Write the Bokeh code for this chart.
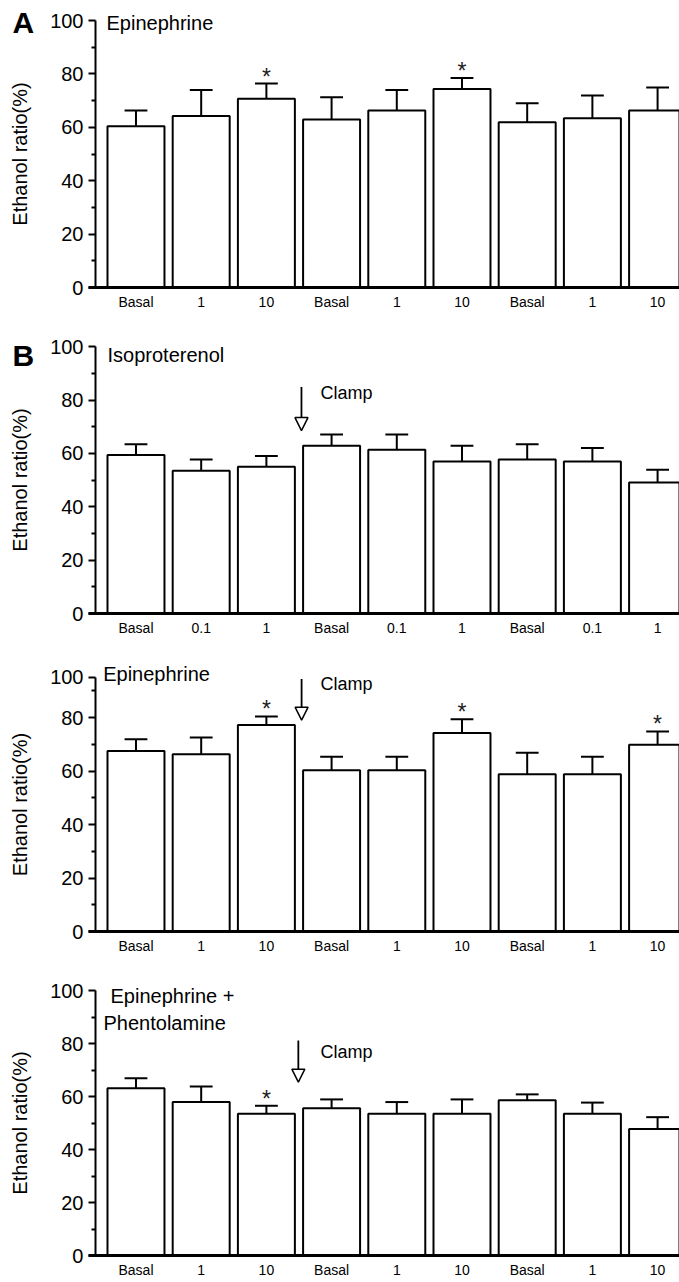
from bokeh.plotting import figure
from bokeh.models import (Range1d, FixedTicker, Label, Arrow, NormalHead, ColumnDataSource)
from bokeh.layouts import column
from bokeh.core.properties import value
from bokeh.embed import file_html
from bokeh.resources import INLINE

# ---------------- data ----------------
epi_labels = ["Basal", "1", "10", "Basal", "1", "10", "Basal", "1", "10"]
iso_labels = ["Basal", "0.1", "1", "Basal", "0.1", "1", "Basal", "0.1", "1"]

a_mean = [60.4, 64.2, 70.7, 62.9, 66.3, 74.3, 61.9, 63.4, 66.3]
a_sem = [5.9, 9.8, 5.7, 8.4, 7.7, 4.2, 7.1, 8.5, 8.6]
a_sig = [0, 0, 1, 0, 0, 1, 0, 0, 0]

iso_mean = [59.4, 53.5, 55.0, 62.9, 61.4, 57.0, 57.7, 57.0, 49.1]
iso_sem = [4.1, 4.2, 4.1, 4.2, 5.7, 5.9, 5.8, 5.1, 4.8]
iso_sig = [0, 0, 0, 0, 0, 0, 0, 0, 0]

epi_mean = [67.5, 66.3, 77.2, 60.3, 60.3, 74.2, 58.8, 58.8, 69.8]
epi_sem = [4.4, 6.2, 3.2, 5.0, 5.0, 5.1, 8.0, 6.5, 5.0]
epi_sig = [0, 0, 1, 0, 0, 1, 0, 0, 1]

phe_mean = [63.1, 57.9, 53.5, 55.6, 53.5, 53.5, 58.6, 53.5, 47.7]
phe_sem = [3.8, 5.9, 3.0, 3.3, 4.4, 5.4, 2.2, 4.2, 4.5]
phe_sig = [0, 0, 1, 0, 0, 0, 0, 0, 0]

y_ticks = [0, 20, 40, 60, 80, 100]
y_minor = [10, 30, 50, 70, 90]

FONT = "Liberation Sans"
X0, X1 = -2.078, 8.336      # visible x window (frame spans whole width)
AXIS_X = -0.621             # where the y axis is drawn


def make_panel(labels, means, sems, sig, scale, axis_top, above, below):
    """scale: px per unit; above: px from top of figure to y=0; below: px under y=0"""
    p = figure(width=679, height=above + below, x_range=Range1d(X0, X1),
               y_range=Range1d(-below / scale, above / scale),
               output_backend="svg", toolbar_location=None,
               min_border_left=0, min_border_right=0,
               min_border_top=0, min_border_bottom=0)
    p.outline_line_color = None
    p.xgrid.visible = False
    p.ygrid.visible = False
    p.background_fill_color = "white"
    p.border_fill_color = "white"

    idx = list(range(len(means)))
    tops = [m + s for m, s in zip(means, sems)]
    src = ColumnDataSource(dict(x=idx, top=means, err=tops,
                                cl=[i - 0.175 for i in idx],
                                cr=[i + 0.175 for i in idx]))
    p.segment(x0="x", y0="top", x1="x", y1="err", source=src,
              line_color="black", line_width=2)
    p.segment(x0="cl", y0="err", x1="cr", y1="err", source=src,
              line_color="black", line_width=2)
    p.vbar(x="x", top="top", bottom=0, width=0.874, source=src,
           fill_color="white", line_color="black", line_width=2)

    sx = [i for i, s in enumerate(sig) if s]
    sy = [tops[i] for i in sx]
    if sx:
        p.text(x=sx, y=sy, text=["*"] * len(sx), text_align="center",
               text_baseline="alphabetic", text_font=value(FONT),
               text_font_size="23px", text_color="#222222", y_offset=-7)

    # y axis
    yax = p.yaxis[0]
    ticks = [t for t in y_ticks if t < axis_top] + [axis_top]
    if axis_top != 100:
        yax.major_label_overrides = {axis_top: "100"}
    yax.ticker = FixedTicker(ticks=ticks, minor_ticks=y_minor)
    yax.bounds = (0, axis_top)
    yax.fixed_location = AXIS_X
    yax.axis_label = "Ethanol ratio(%)"
    yax.axis_label_text_font = FONT
    yax.axis_label_text_font_style = "normal"
    yax.axis_label_text_font_size = "20px"
    yax.axis_label_text_color = "black"
    yax.axis_label_standoff = 16
    yax.major_label_text_font = FONT
    yax.major_label_text_font_size = "20px"
    yax.major_label_text_color = "black"
    yax.major_label_standoff = 5
    yax.axis_line_width = 2
    yax.axis_line_color = "black"
    yax.major_tick_line_width = 2
    yax.minor_tick_line_width = 2
    yax.major_tick_out = 7
    yax.major_tick_in = 0
    yax.minor_tick_out = 4
    yax.minor_tick_in = 0

    # x axis, drawn at y = 0
    xax = p.xaxis[0]
    xax.fixed_location = 0
    xax.ticker = FixedTicker(ticks=idx, minor_ticks=[])
    xax.bounds = (AXIS_X - 0.1, X1)
    xax.major_label_overrides = {i: lab for i, lab in enumerate(labels)}
    xax.major_label_text_font = FONT
    xax.major_label_text_font_size = "14px"
    xax.major_label_text_color = "black"
    xax.major_label_standoff = 6
    xax.axis_line_width = 3
    xax.axis_line_color = "black"
    xax.major_tick_line_color = None
    xax.minor_tick_line_color = None
    xax.major_tick_out = 0
    xax.major_tick_in = 0
    return p


def add_label(p, x, y, text, size, bold=False):
    p.add_layout(Label(x=x, y=y, text=text, text_font=FONT,
                       text_font_size=size, text_baseline="middle",
                       text_align="left", text_color="black",
                       text_font_style="bold" if bold else "normal"))


def add_clamp(p, x, y0, y1, ty):
    p.add_layout(Arrow(end=NormalHead(size=13, fill_color="white",
                                      line_color="black", line_width=1.5),
                       x_start=x, y_start=y0, x_end=x, y_end=y1,
                       line_width=1.8, line_color="black"))
    add_label(p, 2.83, ty, "Clamp", "18px")


pA = make_panel(epi_labels, a_mean, a_sem, a_sig, 2.67, 100, 287, 30)
add_label(pA, -1.894, 99.3, "A", "30px", bold=True)
add_label(pA, -0.452, 99.0, "Epinephrine", "20px")

pB1 = make_panel(iso_labels, iso_mean, iso_sem, iso_sig, 2.667, 100, 296, 30)
add_label(pB1, -1.894, 96.9, "B", "30px", bold=True)
add_label(pB1, -0.437, 96.9, "Isoproterenol", "20px")
add_clamp(pB1, 2.538, 84.9, 68.6, 82.7)

pB2 = make_panel(epi_labels, epi_mean, epi_sem, epi_sig, 2.675, 95, 288, 30)
add_label(pB2, -0.503, 96.3, "Epinephrine", "20px")
add_clamp(pB2, 2.54, 94.4, 79.0, 92.5)

pB3 = make_panel(epi_labels, phe_mean, phe_sem, phe_sig, 2.65, 100, 294, 26)
add_label(pB3, -0.391, 98.1, "Epinephrine +", "20px")
add_label(pB3, -0.498, 87.7, "Phentolamine", "20px")
add_clamp(pB3, 2.49, 81.1, 65.4, 76.7)

layout = column(pA, pB1, pB2, pB3, spacing=0)
open("out.html", "w").write(file_html(layout, INLINE))
